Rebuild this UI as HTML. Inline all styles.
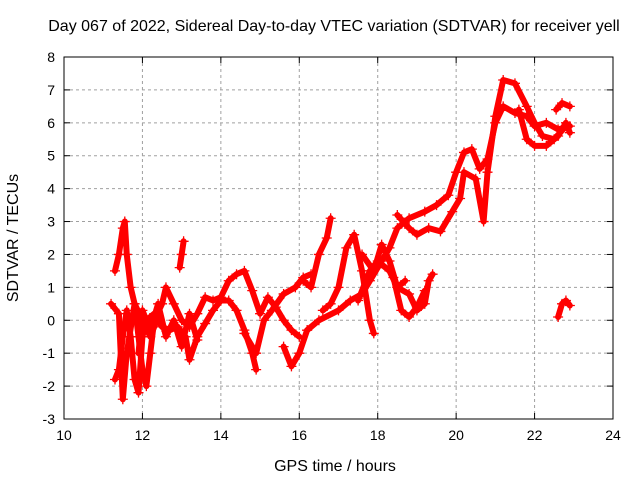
<!DOCTYPE html>
<html><head><meta charset="utf-8"><style>
body{margin:0;background:#fff;}
svg{display:block;font-family:"Liberation Sans",sans-serif;}
</style></head><body>
<svg id="chart" width="640" height="480" viewBox="0 0 640 480" xmlns="http://www.w3.org/2000/svg">
<rect width="640" height="480" fill="#fff"/>
<text x="334" y="31" font-size="16" text-anchor="middle">Day 067 of 2022, Sidereal Day-to-day VTEC variation (SDTVAR) for receiver yell</text>
<text x="335" y="471" font-size="16" text-anchor="middle">GPS time / hours</text>
<text x="18" y="238" font-size="16" text-anchor="middle" transform="rotate(-90 18 238)">SDTVAR / TECUs</text>
<g id="grid"></g><g id="marks"></g><g id="axes"></g>
</svg>
<script>
const xTicks=[10,12,14,16,18,20,22,24];
const yTicks=[-3,-2,-1,0,1,2,3,4,5,6,7,8];
const trackA_t=[16.2,16.5,17,17.3,17.6,17.8,18,18.3,18.5,18.8,19.2,19.5,19.8,20,20.2,20.4,20.6,20.8,21,21.2,21.5,21.8,22,22.3,22.6,22.9];
const trackA_v=[-0.3,0,0.3,0.6,0.8,1.2,1.6,2.2,2.8,3.1,3.3,3.5,3.8,4.5,5.1,5.2,4.6,4.9,6.0,6.5,6.3,6.2,5.9,6.0,5.8,5.9];
const trackB_t=[18.5,18.8,19,19.3,19.6,19.9,20.1,20.2,20.5,20.7,20.8,21,21.2,21.5,21.8,22,22.2,22.5,22.8];
const trackB_v=[3.2,2.8,2.6,2.8,2.7,3.3,3.7,4.5,4.3,3.0,4.5,6.2,7.3,7.2,6.5,6.0,5.6,5.5,5.9];
const trackC_t=[21.6,21.8,22,22.3,22.6,22.8,22.9];
const trackC_v=[6.4,5.5,5.3,5.3,5.6,6.0,5.7];
const trackC2_t=[22.55,22.7,22.9];
const trackC2_v=[6.4,6.6,6.5];
const trackD_t=[22.6,22.7,22.8,22.9];
const trackD_v=[0.1,0.5,0.6,0.45];
const trackE_t=[17.5,17.8,18,18.3,18.5,18.8,19,19.2,19.3,19.4];
const trackE_v=[0.6,1.5,1.8,1.5,1.0,0.8,0.3,0.5,1.2,1.4];
const trackE2_t=[18.4,18.6,18.8,19.0,19.2];
const trackE2_v=[1.3,0.3,0.1,0.4,0.9];
const trackF_t=[15.6,15.8,16,16.2];
const trackF_v=[-0.8,-1.4,-1.0,-0.3];
const trackF2_t=[16.1,16.3,16.5,16.7,16.8];
const trackF2_v=[1.2,1.0,2.0,2.5,3.1];
const trackG_t=[11.3,11.4,11.5,11.55,11.6,11.7,11.8,11.9,12,12.1,12.2,12.3,12.5,12.6,12.8,13,13.2,13.4,13.6,13.8,14,14.2,14.4,14.6,14.8,15,15.2,15.4,15.6,15.8,16];
const trackG_v=[1.5,2.0,2.8,3.0,2.0,1.0,0.5,-0.5,-1.5,-2.0,-1.0,0,0.5,1.0,0.5,0,-0.2,0.2,0.7,0.6,0.7,1.2,1.4,1.5,0.9,0.2,0.7,0.4,0,-0.3,-0.5];
const trackH_t=[11.3,11.4,11.5,11.6,11.7,11.8,11.9,12,12.1,12.3,12.5,12.7,12.9,13.1,13.2,13.4,13.6,13.8,14,14.2,14.4,14.6,14.8,14.9];
const trackH_v=[-1.8,-1.5,-0.5,0.3,-0.5,-1.8,-2.2,-0.5,0,0.2,-0.2,-0.3,-0.2,-0.5,-1.2,-0.5,-0.1,0.3,0.6,0.6,0.3,-0.3,-1.0,-1.5];
const trackI_t=[11.2,11.4,11.5,11.6,11.8,12,12.2,12.4];
const trackI_v=[0.5,0.2,-2.4,-1.0,0.5,0,-0.5,0.1];
const trackI2_t=[12.95,13.0,13.05];
const trackI2_v=[1.6,2.0,2.4];
const trackJ_t=[14.6,14.9,15.1,15.3,15.6,15.9,16.1,16.3];
const trackJ_v=[-0.4,-1.0,0,0.3,0.8,1.0,1.3,1.4];
const trackK_t=[16.6,16.8,17,17.2,17.4,17.6,17.8,17.9];
const trackK_v=[0.3,0.5,1.0,2.2,2.6,1.5,0,-0.4];
const trackL_t=[11.9,12.0,12.2,12.4,12.6,12.8,13.0,13.2,13.4];
const trackL_v=[-1.0,0.3,-0.3,0.5,-0.5,0.0,-0.8,0.2,-0.6];
const trackM_t=[17.6,17.9,18.1,18.3,18.5,18.7];
const trackM_v=[2.0,1.5,2.3,1.8,1.0,1.2];
const tracks=[[trackA_t,trackA_v],[trackB_t,trackB_v],[trackC_t,trackC_v],[trackC2_t,trackC2_v],[trackD_t,trackD_v],[trackE_t,trackE_v],[trackE2_t,trackE2_v],[trackF_t,trackF_v],[trackF2_t,trackF2_v],[trackG_t,trackG_v],[trackH_t,trackH_v],[trackI_t,trackI_v],[trackI2_t,trackI2_v],[trackJ_t,trackJ_v],[trackK_t,trackK_v],[trackL_t,trackL_v],[trackM_t,trackM_v]];
const L=64,R=613,T=57,B=419,X0=10,X1=24,Y0=-3,Y1=8;
function xs(h){return L+(h-X0)/(X1-X0)*(R-L);}
function ys(v){return B-(v-Y0)/(Y1-Y0)*(B-T);}
const NS="http://www.w3.org/2000/svg";
function mk(tag,at,parent){const e=document.createElementNS(NS,tag);for(const k in at)e.setAttribute(k,at[k]);parent.appendChild(e);return e;}
const grid=document.getElementById('grid'),axes=document.getElementById('axes'),marks=document.getElementById('marks');
xTicks.forEach(t=>{const x=xs(t);
 if(t>X0&&t<X1){const g=mk('line',{x1:x,x2:x,y1:T,y2:B,stroke:'#a0a0a0','stroke-dasharray':'3,3'},grid);
 
 }
 mk('line',{x1:x,x2:x,y1:B,y2:B-6,stroke:'#000'},axes);mk('line',{x1:x,x2:x,y1:T,y2:T+6,stroke:'#000'},axes);
 const lb=mk('text',{x:x,y:B+21,'font-size':14,'text-anchor':'middle'},axes);lb.textContent=t;
 
 });
yTicks.forEach(t=>{const y=ys(t);
 if(t>Y0&&t<Y1){const g=mk('line',{x1:L,x2:R,y1:y,y2:y,stroke:'#a0a0a0','stroke-dasharray':'3,3'},grid);
 
 }
 mk('line',{x1:L,x2:L+6,y1:y,y2:y,stroke:'#000'},axes);mk('line',{x1:R,x2:R-6,y1:y,y2:y,stroke:'#000'},axes);
 const lb=mk('text',{x:L-9,y:y+5,'font-size':14,'text-anchor':'end'},axes);lb.textContent=t;
 
 });
const frame=mk('rect',{x:L,y:T,width:R-L,height:B-T,fill:'none',stroke:'#000'},axes);


tracks.forEach(([ts,vs])=>{
 const pl=mk('polyline',{points:ts.map((t,i)=>xs(t)+','+ys(vs[i])).join(' '),fill:'none',stroke:'#f00','stroke-width':6,'stroke-linejoin':'round','stroke-linecap':'round'},marks);
 
 
 ts.forEach((t,i)=>{const x=xs(t),y=ys(vs[i]);
  const p=mk('path',{d:`M${x-5},${y}H${x+5}M${x},${y-5}V${y+5}`,stroke:'#f00','stroke-width':1.3},marks);
  
  });
});
</script>
</body></html>
